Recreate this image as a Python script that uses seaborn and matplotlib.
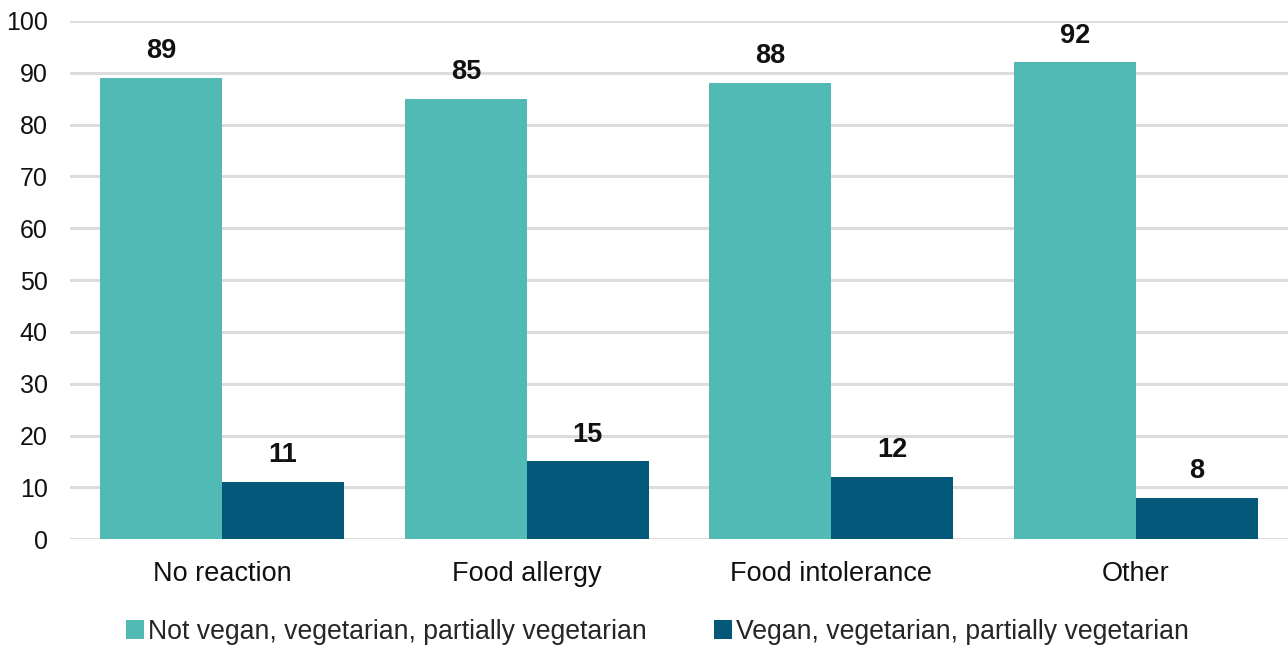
import matplotlib
matplotlib.use("Agg")
import matplotlib.pyplot as plt
import seaborn as sns
import pandas as pd
from matplotlib.patches import Patch

categories = ["No reaction", "Food allergy", "Food intolerance", "Other"]
groups = ["Not vegan, vegetarian, partially vegetarian",
          "Vegan, vegetarian, partially vegetarian"]
not_veg = [89, 85, 88, 92]
veg = [11, 15, 12, 8]
y_ticks = [0, 10, 20, 30, 40, 50, 60, 70, 80, 90, 100]

colors = ["#52BAB5", "#03587A"]

df = pd.DataFrame({
    "category": categories * 2,
    "group": [groups[0]] * len(categories) + [groups[1]] * len(categories),
    "value": not_veg + veg,
})

sns.set_theme(style="white")
plt.rcParams["font.family"] = ["Liberation Sans", "DejaVu Sans"]

fig = plt.figure(figsize=(12.88, 6.48), dpi=100)
ax = fig.add_axes([0.0543, 0.168, 0.9457, 0.7996])

sns.barplot(data=df, x="category", y="value", hue="group", order=categories,
            hue_order=groups, palette=colors, width=0.8, saturation=1,
            linewidth=0, edgecolor="none", legend=False, ax=ax, zorder=3)

for cont in ax.containers:
    ax.bar_label(cont, fmt="%d", padding=10, fontsize=19.5, fontweight="bold",
                 color="#111111")

ax.set_ylim(0, 100)
ax.set_yticks(y_ticks)
ax.set_xlim(-0.5, len(categories) - 0.5)
ax.yaxis.grid(True, color="#DCDCDC", linewidth=2.2, zorder=0)
ax.set_axisbelow(True)
for s in ax.spines.values():
    s.set_visible(False)
ax.set_xlabel("")
ax.set_ylabel("")
ax.tick_params(axis="both", length=0, colors="#111111")
ax.tick_params(axis="y", pad=16, labelsize=18)
ax.tick_params(axis="x", pad=16, labelsize=19.5)

handles = [Patch(facecolor=c, edgecolor="none") for c in colors]
fig.legend(handles, groups, loc="center", bbox_to_anchor=(0.5105, 0.025),
           ncol=2, frameon=False, fontsize=19.2, handlelength=0.7,
           handleheight=0.7, handletextpad=0.15, columnspacing=2.5)

fig.savefig("out.png", dpi=100)
